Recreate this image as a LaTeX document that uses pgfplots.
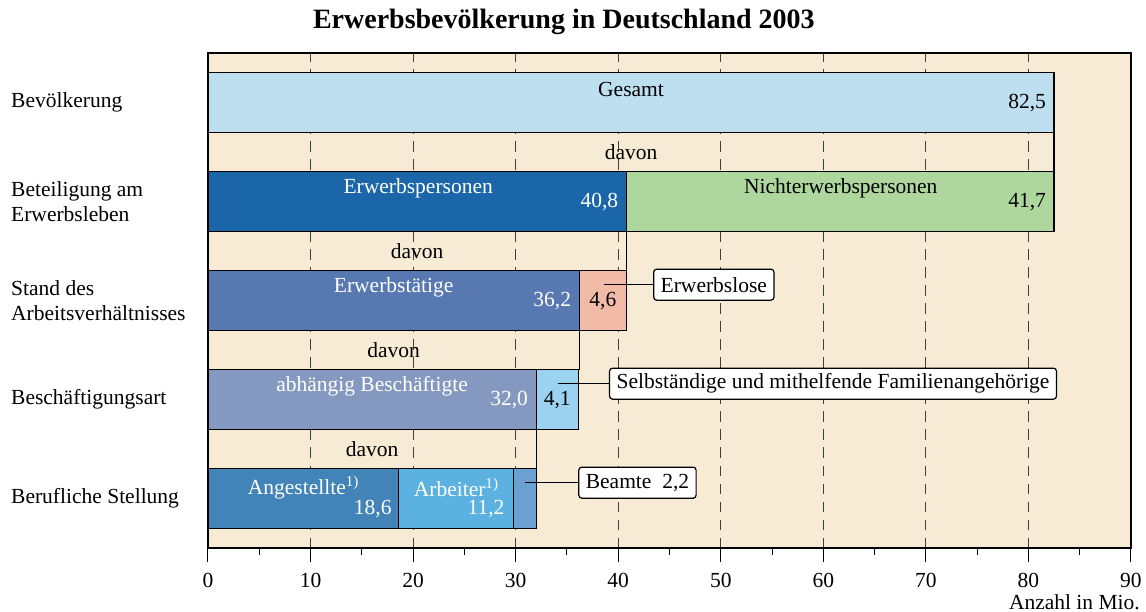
\documentclass[border=0pt]{standalone}
\usepackage{fontspec}
\setmainfont{Liberation Serif}
\usepackage{pgfplots}
\pgfplotsset{compat=1.18}

\definecolor{bg}{HTML}{F7EBD5}
\definecolor{cGes}{HTML}{BDDFF0}
\definecolor{cErwP}{HTML}{1B66A8}
\definecolor{cNicht}{HTML}{AED79E}
\definecolor{cErwT}{HTML}{5778B0}
\definecolor{cErwL}{HTML}{F2BBA8}
\definecolor{cAbh}{HTML}{8599C0}
\definecolor{cSelb}{HTML}{9BD2EF}
\definecolor{cAng}{HTML}{4284B8}
\definecolor{cArb}{HTML}{5BB1E0}
\definecolor{cBeam}{HTML}{6BA0D0}

\newcommand{\lbl}{\fontsize{21.5bp}{24.5bp}\selectfont}

\pgfplotsset{
  seg/.style={xbar, bar width=0.6, bar shift=0pt, draw=black, line width=1.2bp, fill=#1},
  conn/.style={black, line width=1.2bp, forget plot},
}
\tikzset{
  box/.style={draw=black, fill=white, rounded corners=3bp, line width=1.2bp,
    inner xsep=7bp, inner ysep=0pt, minimum height=31bp, font=\lbl, anchor=west},
  wt/.style={font=\lbl, text=white, inner sep=0pt},
  bk/.style={font=\lbl, text=black, inner sep=0pt},
}

\begin{document}
\begin{tikzpicture}
\useasboundingbox (-208bp,-64bp) rectangle (938bp,548bp);
\begin{axis}[
  scale only axis, width=923bp, height=495bp,
  xmin=0, xmax=90, ymin=-0.5, ymax=4.5,
  clip=false,
  axis background/.style={fill=bg},
  axis line style={black, line width=1.2bp},
  xtick={0,10,...,90}, minor x tick num=1, xtick pos=bottom,
  tick align=outside, major tick length=14bp, minor tick length=7bp,
  tick style={black, line width=1bp},
  xmajorgrids,
  major grid style={black!75, line width=0.9bp, dash pattern=on 10.5bp off 7.5bp},
  ytick={0,1,2,3,4},
  yticklabels={Berufliche Stellung, Beschäftigungsart, {Stand des\\Arbeitsverhältnisses}, {Beteiligung am\\Erwerbsleben}, Bevölkerung},
  ytick style={draw=none},
  yticklabel style={anchor=west, align=left, inner sep=0pt, xshift=-183bp, font=\lbl},
  xticklabel style={font=\lbl, anchor=north, inner sep=0pt, yshift=-11bp},
  /pgf/number format/assume math mode=true,
  xlabel={Anzahl in Mio.},
  xlabel style={at={(rel axis cs:1,0)}, anchor=north east, inner sep=0pt, xshift=9bp, yshift=-46bp, font=\lbl},
]
% segments drawn longest first, so each shorter one covers the start of the longer
% Bevölkerung
\addplot[seg=cGes] coordinates {(82.5,4)};
% Beteiligung am Erwerbsleben: 40,8 + 41,7
\addplot[seg=cNicht] coordinates {(82.5,3)};
\addplot[seg=cErwP] coordinates {(40.8,3)};
% Stand des Arbeitsverhältnisses: 36,2 + 4,6
\addplot[seg=cErwL] coordinates {(40.8,2)};
\addplot[seg=cErwT] coordinates {(36.2,2)};
% Beschäftigungsart: 32,0 + 4,1
\addplot[seg=cSelb] coordinates {(36.1,1)};
\addplot[seg=cAbh] coordinates {(32.0,1)};
% Berufliche Stellung: 18,6 + 11,2 + 2,2
\addplot[seg=cBeam] coordinates {(32.0,0)};
\addplot[seg=cArb] coordinates {(29.8,0)};
\addplot[seg=cAng] coordinates {(18.6,0)};

% "davon" connectors
\addplot[conn] coordinates {(82.5,3.7) (82.5,3.3)};
\addplot[conn] coordinates {(40.8,2.7) (40.8,2.3)};
\addplot[conn] coordinates {(36.2,1.7) (36.2,1.3)};
\addplot[conn] coordinates {(32.0,0.7) (32.0,0.3)};

% callout lines
\addplot[conn] coordinates {(38.6,2.16) (43.4,2.16)};
\addplot[conn] coordinates {(34.1,1.16) (39.1,1.16)};
\addplot[conn] coordinates {(30.9,0.16) (36.1,0.16)};

\node[box] at (axis cs:43.4,2.16) {Erwerbslose};
\node[box] at (axis cs:39.1,1.16) {Selbständige und mithelfende Familienangehörige};
\node[box] at (axis cs:36.1,0.16) {Beamte\ \ 2,2};

\node[bk] at (axis cs:41.25,3.5) {davon};
\node[bk] at (axis cs:20.4,2.5) {davon};
\node[bk] at (axis cs:18.1,1.5) {davon};
\node[bk] at (axis cs:16.0,0.5) {davon};

\node[bk] at (axis cs:41.25,4.13) {Gesamt};
\node[bk, anchor=east, xshift=-8bp] at (axis cs:82.5,3.99) {82,5};

\node[wt] at (axis cs:20.5,3.13) {Erwerbspersonen};
\node[wt, anchor=east, xshift=-8bp] at (axis cs:40.8,2.99) {40,8};
\node[bk] at (axis cs:61.7,3.13) {Nichterwerbspersonen};
\node[bk, anchor=east, xshift=-8bp] at (axis cs:82.5,2.99) {41,7};

\node[wt] at (axis cs:18.1,2.13) {Erwerbstätige};
\node[wt, anchor=east, xshift=-8bp] at (axis cs:36.2,1.99) {36,2};
\node[bk] at (axis cs:38.5,1.99) {4,6};

\node[wt] at (axis cs:16.0,1.13) {abhängig Beschäftigte};
\node[wt, anchor=east, xshift=-8bp] at (axis cs:32.0,0.99) {32,0};
\node[bk] at (axis cs:34.05,0.99) {4,1};

\node[wt] at (axis cs:9.3,0.11) {Angestellte\textsuperscript{1)}};
\node[wt, anchor=east, xshift=-7bp] at (axis cs:18.6,-0.11) {18,6};
\node[wt] at (axis cs:24.2,0.11) {Arbeiter\textsuperscript{1)}};
\node[wt, anchor=east, xshift=-9bp] at (axis cs:29.8,-0.11) {11,2};

\node[font=\fontsize{28bp}{31bp}\selectfont\bfseries, yshift=31bp] at (axis cs:34.7,4.5) {Erwerbsbevölkerung in Deutschland 2003};
\end{axis}
\end{tikzpicture}
\end{document}
